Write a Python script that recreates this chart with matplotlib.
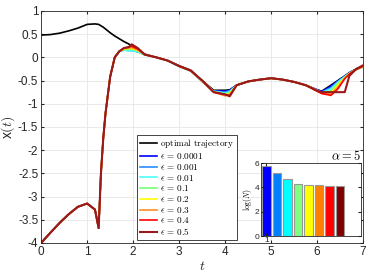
import numpy as np
import matplotlib.pyplot as plt

plt.rcParams['mathtext.fontset'] = 'cm'
plt.rcParams['font.family'] = ['Liberation Sans', 'DejaVu Sans']

# time nodes shared by all curves
t = [0, 0.2, 0.4, 0.6, 0.8, 1.0, 1.17, 1.25, 1.3, 1.35, 1.4, 1.5, 1.6, 1.7,
     1.8, 1.9, 1.97, 2.1, 2.25, 2.5, 2.75, 3.0, 3.25, 3.5, 3.75, 4.0, 4.1,
     4.25, 4.5, 4.75, 5.0, 5.25, 5.5, 5.75, 6.0, 6.1, 6.3, 6.45, 6.6, 6.7,
     6.85, 7.0]

x_opt = [0.48, 0.49, 0.52, 0.57, 0.63, 0.71, 0.72, 0.71, 0.68, 0.65, 0.61,
         0.53, 0.46, 0.4, 0.34, 0.29, 0.25, 0.18, 0.07, 0.0, -0.07, -0.18,
         -0.28, -0.5, -0.71, -0.71, -0.7, -0.6, -0.52, -0.48, -0.45, -0.48,
         -0.53, -0.6, -0.7, -0.73, -0.6, -0.5, -0.4, -0.33, -0.25, -0.2]

head = [-4.0, -3.78, -3.57, -3.38, -3.22, -3.15, -3.28, -3.68, -2.5, -1.75,
        -1.2, -0.42, 0.0, 0.13]

x_eps = {
    '0.0001': head + [0.16, 0.15, 0.15, 0.12, 0.06, 0.0, -0.07, -0.19, -0.29,
                      -0.51, -0.72, -0.73, -0.71, -0.6, -0.52, -0.48, -0.45,
                      -0.48, -0.53, -0.6, -0.7, -0.74, -0.62, -0.51, -0.41,
                      -0.34, -0.26, -0.2],
    '0.001': head + [0.16, 0.15, 0.15, 0.12, 0.06, 0.0, -0.07, -0.19, -0.29,
                     -0.52, -0.73, -0.75, -0.72, -0.6, -0.52, -0.48, -0.45,
                     -0.48, -0.53, -0.6, -0.71, -0.75, -0.65, -0.52, -0.41,
                     -0.34, -0.26, -0.2],
    '0.01': head + [0.15, 0.14, 0.14, 0.12, 0.05, 0.0, -0.07, -0.2, -0.3,
                    -0.52, -0.73, -0.77, -0.74, -0.6, -0.52, -0.48, -0.45,
                    -0.48, -0.53, -0.6, -0.71, -0.76, -0.68, -0.54, -0.42,
                    -0.35, -0.27, -0.21],
    '0.1': head + [0.17, 0.17, 0.18, 0.14, 0.06, 0.0, -0.07, -0.19, -0.29,
                   -0.51, -0.74, -0.79, -0.76, -0.6, -0.52, -0.48, -0.45,
                   -0.48, -0.53, -0.6, -0.72, -0.77, -0.72, -0.56, -0.43,
                   -0.35, -0.26, -0.2],
    '0.2': head + [0.18, 0.19, 0.19, 0.15, 0.06, 0.0, -0.07, -0.19, -0.29,
                   -0.51, -0.74, -0.81, -0.78, -0.6, -0.52, -0.48, -0.45,
                   -0.48, -0.53, -0.6, -0.72, -0.77, -0.76, -0.6, -0.44,
                   -0.35, -0.26, -0.2],
    '0.3': head + [0.19, 0.2, 0.21, 0.16, 0.06, 0.0, -0.07, -0.19, -0.29,
                   -0.51, -0.75, -0.83, -0.8, -0.6, -0.52, -0.48, -0.45,
                   -0.48, -0.53, -0.6, -0.72, -0.78, -0.79, -0.64, -0.45,
                   -0.36, -0.26, -0.2],
    '0.4': head + [0.2, 0.22, 0.24, 0.18, 0.06, 0.0, -0.07, -0.19, -0.29,
                   -0.5, -0.75, -0.8, -0.82, -0.6, -0.52, -0.48, -0.45,
                   -0.48, -0.53, -0.6, -0.73, -0.78, -0.82, -0.68, -0.46,
                   -0.36, -0.26, -0.19],
    '0.5': head + [0.2, 0.22, 0.28, 0.2, 0.06, 0.0, -0.07, -0.19, -0.28,
                   -0.5, -0.75, -0.8, -0.84, -0.6, -0.52, -0.48, -0.45,
                   -0.48, -0.53, -0.6, -0.72, -0.75, -0.75, -0.75, -0.75,
                   -0.4, -0.25, -0.17],
}

eps_colors = [(0, 0, 1), (0.15, 0.55, 1), (0.3, 1, 1), (0.45, 1, 0.45),
              (1, 1, 0), (1, 0.55, 0.15), (1, 0, 0), (0.6, 0.1, 0.1)]

# inset: log(N) per epsilon
bar_pos = [1, 2, 3, 4, 5, 6, 7, 8]
logN = [5.8, 5.2, 4.7, 4.3, 4.2, 4.2, 4.12, 4.1]
bar_colors = [(0, 0, 1), (0, 0.5, 1), (0, 1, 1), (0.5, 1, 0.5),
              (1, 1, 0), (1, 0.5, 0), (1, 0, 0), (0.5, 0, 0)]

fig = plt.figure(figsize=(3.74, 2.73), dpi=100)
ax = fig.add_axes([0.110, 0.110, 0.861, 0.850])

ax.plot(t, x_opt, color='k', lw=1.2, label=r'$\mathrm{optimal\ trajectory}$')
for (eps, vals), c in zip(x_eps.items(), eps_colors):
    lw = 1.5 if eps == '0.5' else 1.2
    ax.plot(t, vals, color=c, lw=lw, label=r'$\epsilon\,=\,%s$' % eps)

ax.set_xlim(0, 7)
ax.set_ylim(-4, 1)
ax.set_xticks(range(8))
ax.set_yticks(np.arange(-4, 1.01, 0.5))
ax.set_yticklabels(['-4', '-3.5', '-3', '-2.5', '-2', '-1.5', '-1', '-0.5',
                    '0', '0.5', '1'])
ax.grid(True, color=(0.9, 0.9, 0.9), lw=0.6)
ax.set_axisbelow(True)
ax.tick_params(direction='in', length=2.5, labelsize=8.5, colors=(0.15, 0.15, 0.15),
               top=True, right=True, pad=2)
for s in ax.spines.values():
    s.set_color((0.15, 0.15, 0.15))
    s.set_linewidth(0.6)
ax.set_xlabel(r'$t$', fontsize=10, color=(0.15, 0.15, 0.15), labelpad=1)
ax.set_ylabel(r'x$(t)$', fontsize=10, color=(0.15, 0.15, 0.15), labelpad=1)

leg = ax.legend(loc='lower left', bbox_to_anchor=(0.298, 0.013), fontsize=6.6,
                handlelength=1.9, handletextpad=0.3, labelspacing=0.08,
                borderpad=0.3, borderaxespad=0, fancybox=False, framealpha=1)
leg.get_frame().set_edgecolor((0.15, 0.15, 0.15))
leg.get_frame().set_linewidth(0.6)

ins = fig.add_axes([0.698, 0.1355, 0.267, 0.267])
ins.bar(bar_pos, logN, width=0.8, color=bar_colors, edgecolor=(0.6, 0.6, 0.6),
        linewidth=0.8)
ins.set_xlim(0.5, 10)
ins.set_ylim(0, 6)
ins.set_xticks([1])
ins.set_yticks([0, 2, 4, 6])
ins.tick_params(direction='in', length=2, labelsize=6, pad=1, top=True, right=True,
                colors=(0.15, 0.15, 0.15))
for s in ins.spines.values():
    s.set_color((0.15, 0.15, 0.15))
    s.set_linewidth(0.6)
ins.set_ylabel(r'$\log(N)$', fontsize=5.5, labelpad=1)
ins.set_title(r'$\alpha = 5$', loc='right', fontsize=9, pad=2)

fig.savefig('out.png', dpi=100)
